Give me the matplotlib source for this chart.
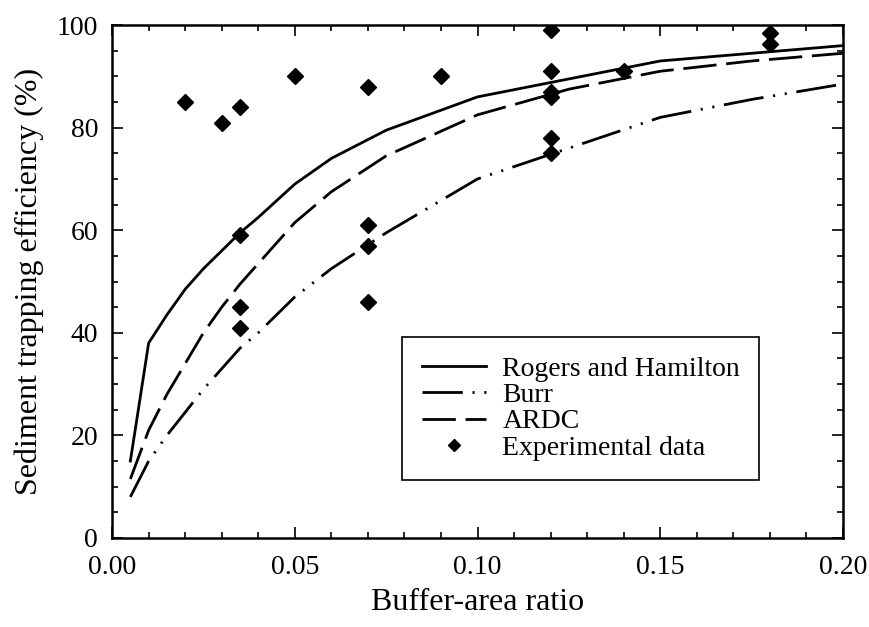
import matplotlib
matplotlib.use('Agg')
import matplotlib.pyplot as plt
from matplotlib.ticker import MultipleLocator, FormatStrFormatter

plt.rcParams['font.family'] = ['Liberation Serif', 'DejaVu Serif']
plt.rcParams['lines.scale_dashes'] = False

# model curves
x_curve = [0.005, 0.01, 0.015, 0.02, 0.025, 0.03, 0.035, 0.04, 0.05, 0.06,
           0.075, 0.1, 0.125, 0.15, 0.175, 0.2]
rogers = [15, 38, 43.5, 48.5, 52.5, 56, 59.5, 62.5, 69, 74,
          79.5, 86, 89.5, 93, 94.5, 96]
burr = [8, 15, 20, 24.5, 29, 33, 37, 40, 47, 52.5,
        59.5, 70, 76, 82, 85.5, 88.5]
ardc = [11.5, 21, 28, 34, 40, 45, 49.5, 53.5, 61.5, 67.5,
        74.5, 82.5, 87.5, 91, 93, 94.5]

# experimental points
exp_x = [0.02, 0.03, 0.035, 0.035, 0.035, 0.035, 0.05, 0.07, 0.07, 0.07, 0.07,
         0.09, 0.12, 0.12, 0.12, 0.12, 0.12, 0.12, 0.14, 0.18, 0.18]
exp_y = [85, 81, 84, 59, 45, 41, 90, 88, 61, 57, 46,
         90, 99, 91, 87, 86, 78, 75, 91, 98.5, 96.3]

fig = plt.figure(figsize=(8.69, 6.27), dpi=100)
ax = fig.add_axes([0.129, 0.142, 0.841, 0.818])

ax.plot(x_curve, rogers, color='black', lw=2.0, label='Rogers and Hamilton')
ax.plot(x_curve, burr, color='black', lw=2.0,
        linestyle=(0, (29, 7, 1.5, 7, 1.5, 7)), label='Burr')
ax.plot(x_curve, ardc, color='black', lw=2.0,
        linestyle=(0, (24, 7)), label='ARDC')
ax.plot(exp_x, exp_y, linestyle='none', marker='D', ms=8, color='black',
        label='Experimental data')

ax.set_xlim(0, 0.2)
ax.set_ylim(0, 100)
ax.xaxis.set_major_locator(MultipleLocator(0.05))
ax.xaxis.set_minor_locator(MultipleLocator(0.01))
ax.yaxis.set_major_locator(MultipleLocator(20))
ax.yaxis.set_minor_locator(MultipleLocator(5))
ax.xaxis.set_major_formatter(FormatStrFormatter('%.2f'))
ax.tick_params(which='both', direction='in', top=True, right=True, width=1.2)
ax.tick_params(which='major', length=8, labelsize=20)
ax.tick_params(axis='x', which='major', pad=12)
ax.tick_params(axis='y', which='major', pad=10)
ax.tick_params(which='minor', length=4)
for s in ax.spines.values():
    s.set_linewidth(1.8)

ax.set_xlabel('Buffer-area ratio', fontsize=23, labelpad=6)
ax.set_ylabel('Sediment trapping efficiency (%)', fontsize=23, labelpad=9)

leg = ax.legend(loc='upper left', bbox_to_anchor=(0.397, 0.392), fontsize=20,
                fancybox=False, edgecolor='black', framealpha=1,
                handlelength=2.3, handletextpad=0.6, borderpad=0.7,
                borderaxespad=0, labelspacing=0.03, markerscale=0.75)
leg.get_frame().set_linewidth(1.2)

fig.savefig('out.png', dpi=100)
